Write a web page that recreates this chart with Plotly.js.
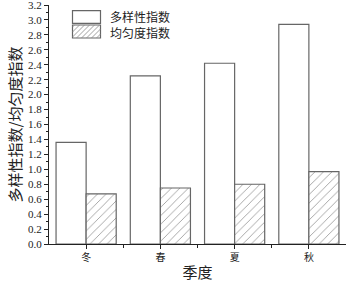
<!DOCTYPE html>
<html><head><meta charset="utf-8">
<script src="https://cdn.plot.ly/plotly-3.0.1.min.js"></script>
<style>html,body{margin:0;padding:0;background:#fff}#c{width:349px;height:283px}</style>
</head><body><div id="c"></div>
<script>
const seasons = ['冬', '春', '夏', '秋'];
const diversity = [1.36, 2.25, 2.42, 2.94];
const evenness = [0.67, 0.75, 0.80, 0.97];
const seriesNames = ['多样性指数', '均匀度指数'];
const yTicks = [0, 0.2, 0.4, 0.6, 0.8, 1.0, 1.2, 1.4, 1.6, 1.8, 2.0, 2.2, 2.4, 2.6, 2.8, 3.0, 3.2];

const serif = 'Liberation Serif, DejaVu Serif, serif';
const cjk = 'Noto Sans CJK SC, sans-serif';
const ink = '#222';
const barLine = '#666';
const hatch = '#888';

const traces = [
  {type: 'bar', x: seasons, y: diversity, name: seriesNames[0], showlegend: false,
   marker: {color: '#ffffff', line: {color: barLine, width: 1.2}}},
  {type: 'bar', x: seasons, y: evenness, name: seriesNames[1], showlegend: false,
   marker: {color: '#ffffff', line: {color: barLine, width: 1.2},
            pattern: {shape: '/', size: 6, solidity: 0.12, fgcolor: hatch, bgcolor: '#ffffff'}}},
  {type: 'scatter', x: [0.5, 1.5, 2.5], y: [0, 0, 0], xaxis: 'x2', mode: 'none',
   showlegend: false, hoverinfo: 'skip'}
];

// Custom legend drawn in page-pixel positions converted to paper coordinates
const W = 349, H = 283, M = {l: 49, r: 3, t: 5, b: 39};
const pw = W - M.l - M.r, ph = H - M.t - M.b;
const px = x => (x - M.l) / pw;
const py = y => 1 - (y - M.t) / ph;
const shapes = [];
function box(x0, x1, yTop, yBot, hatched) {
  shapes.push({type: 'rect', xref: 'paper', yref: 'paper',
    x0: px(x0), x1: px(x1), y0: py(yBot), y1: py(yTop),
    line: {color: barLine, width: 1.2}, fillcolor: '#ffffff', layer: 'above'});
  if (hatched) {
    const w = x1 - x0, h = yBot - yTop;
    for (let k = -h + 2; k < w; k += 5) {
      const u0 = Math.max(0, k), u1 = Math.min(w, h + k);
      if (u1 <= u0) continue;
      shapes.push({type: 'line', xref: 'paper', yref: 'paper',
        x0: px(x0 + u0), x1: px(x0 + u1),
        y0: py(yBot - (u0 - k)), y1: py(yBot - (u1 - k)),
        line: {color: hatch, width: 0.8}, layer: 'above'});
    }
  }
}
box(72.5, 100.5, 10.7, 23.3, false);
box(72.5, 100.5, 25.0, 38.0, true);
const annotations = [{
  text: seriesNames.join('<br>'), xref: 'paper', yref: 'paper',
  x: px(108), y: py(24.5),
  xanchor: 'left', yanchor: 'middle', align: 'left', showarrow: false,
  font: {family: cjk, size: 12, color: ink}
}];

const layout = {
  width: W, height: H,
  margin: M,
  paper_bgcolor: '#fff', plot_bgcolor: '#fff',
  barmode: 'group', bargap: 0.19, bargroupgap: 0,
  showlegend: false,
  shapes: shapes, annotations: annotations,
  xaxis: {type: 'category', range: [-0.5, 3.5], showline: true, linecolor: ink, linewidth: 1,
          ticks: 'outside', ticklen: 4, tickcolor: ink, showgrid: false, zeroline: false,
          tickfont: {family: cjk, size: 10, color: ink},
          title: {text: '季度', font: {family: cjk, size: 15, color: ink}, standoff: 4}},
  xaxis2: {overlaying: 'x', range: [-0.5, 3.5], showline: false, showgrid: false, zeroline: false,
           tickvals: [0.5, 1.5, 2.5], ticks: 'outside', ticklen: 3, tickcolor: ink,
           showticklabels: false, anchor: 'y', side: 'bottom'},
  yaxis: {range: [0, 3.2001], tickvals: yTicks, tickformat: '.1f', showline: true, linecolor: ink, linewidth: 1,
          ticks: 'outside', ticklen: 4, tickcolor: ink, showgrid: false, zeroline: false,
          ticklabeloverflow: 'allow',
          minor: {dtick: 0.1, ticks: 'outside', ticklen: 2, tickcolor: ink},
          tickfont: {family: serif, size: 11, color: ink},
          title: {text: '多样性指数/均匀度指数', font: {family: cjk, size: 15, color: ink}, standoff: 2}}
};

Plotly.newPlot('c', traces, layout, {displayModeBar: false, staticPlot: true});
</script></body></html>
